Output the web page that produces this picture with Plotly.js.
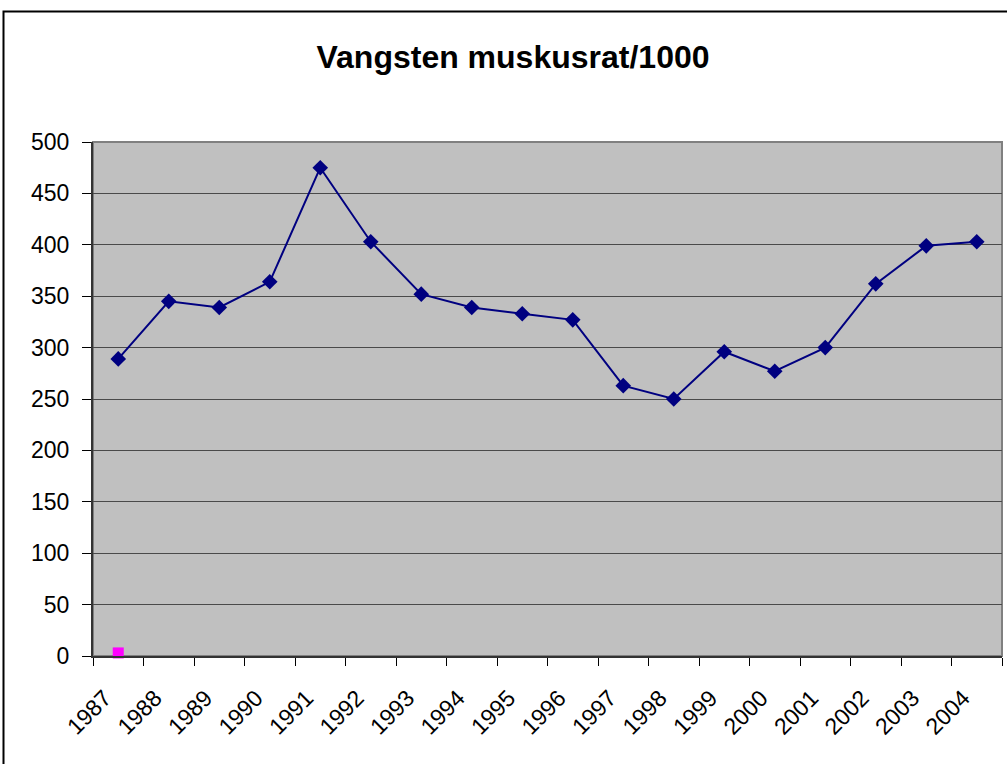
<!DOCTYPE html>
<html>
<head>
<meta charset="utf-8">
<script src="https://cdn.plot.ly/plotly-3.0.1.min.js"></script>
<style>html,body{margin:0;padding:0;background:#fff;}#chart{width:1007px;height:764px;}</style>
</head>
<body>
<div id="chart"></div>
<script>
const years = ['1987','1988','1989','1990','1991','1992','1993','1994','1995','1996','1997','1998','1999','2000','2001','2002','2003','2004'];
const catch1000 = [289,345,339,364,475,403,352,339,333,327,263,250,296,277,300,362,399,403];
const seriesTwoYears = ['1987'];
const seriesTwoValues = [3];
const yTicks = [0,50,100,150,200,250,300,350,400,450,500];

const L = 93, R = 5, T = 142, B = 108, W = 1007, H = 764;
const pw = W - L - R, ph = H - T - B;
const px = v => (v - L) / pw;
const py = v => (H - B - v) / ph;

const data = [
  {x: years, y: catch1000, type: 'scatter', mode: 'lines+markers',
   line: {color: '#000080', width: 2},
   marker: {symbol: 'diamond', size: 12, color: '#000080'},
   cliponaxis: false, hoverinfo: 'x+y'},
  {x: seriesTwoYears, y: seriesTwoValues, type: 'scatter', mode: 'markers',
   marker: {symbol: 'square', size: 11, color: '#FF00FF'},
   cliponaxis: false}
];

const layout = {
  width: W, height: H,
  margin: {l: L, r: R, t: T, b: B, pad: 0},
  paper_bgcolor: '#ffffff',
  plot_bgcolor: '#C0C0C0',
  showlegend: false,
  font: {family: 'Liberation Sans, Arial, sans-serif', color: '#000'},
  title: {text: '<b>Vangsten muskusrat/1000</b>', font: {size: 32, color: '#000', family: 'Liberation Sans, Arial, sans-serif'},
          x: 513 / W, xref: 'container', xanchor: 'center', y: 1 - 57 / H, yref: 'container', yanchor: 'middle'},
  xaxis: {
    type: 'category', categoryorder: 'array', categoryarray: years,
    tickvals: years, ticktext: years.map(y => y + '\u00A0\u00A0\u00A0'),
    range: [-0.5, years.length - 0.5],
    tickson: 'boundaries', ticks: 'outside', ticklen: 8, tickcolor: '#000', tickwidth: 1,
    tickangle: -45, tickfont: {size: 23, color: '#000'}, ticklabelstandoff: 4,
    showgrid: false, showline: true, linecolor: '#333', linewidth: 2,
    zeroline: false, fixedrange: true
  },
  yaxis: {
    range: [0, 500], tickvals: yTicks, ticktext: yTicks.map(String),
    ticks: 'outside', ticklen: 9, tickcolor: '#000', tickwidth: 1,
    tickfont: {size: 23, color: '#000'}, ticklabelstandoff: 8,
    showgrid: true, gridcolor: '#4a4a4a', gridwidth: 1,
    showline: true, linecolor: '#333', linewidth: 2,
    zeroline: false, fixedrange: true
  },
  shapes: [
    {type: 'rect', xref: 'paper', yref: 'paper', x0: 0, x1: 1, y0: 0, y1: 1,
     line: {color: '#808080', width: 2}, layer: 'below'},
    {type: 'rect', xref: 'paper', yref: 'paper', x0: px(3.5), x1: px(1012), y0: py(11.5), y1: py(775),
     line: {color: '#000', width: 2}, fillcolor: 'rgba(0,0,0,0)'}
  ]
};

Plotly.newPlot('chart', data, layout, {displayModeBar: false, staticPlot: true});
</script>
</body>
</html>
